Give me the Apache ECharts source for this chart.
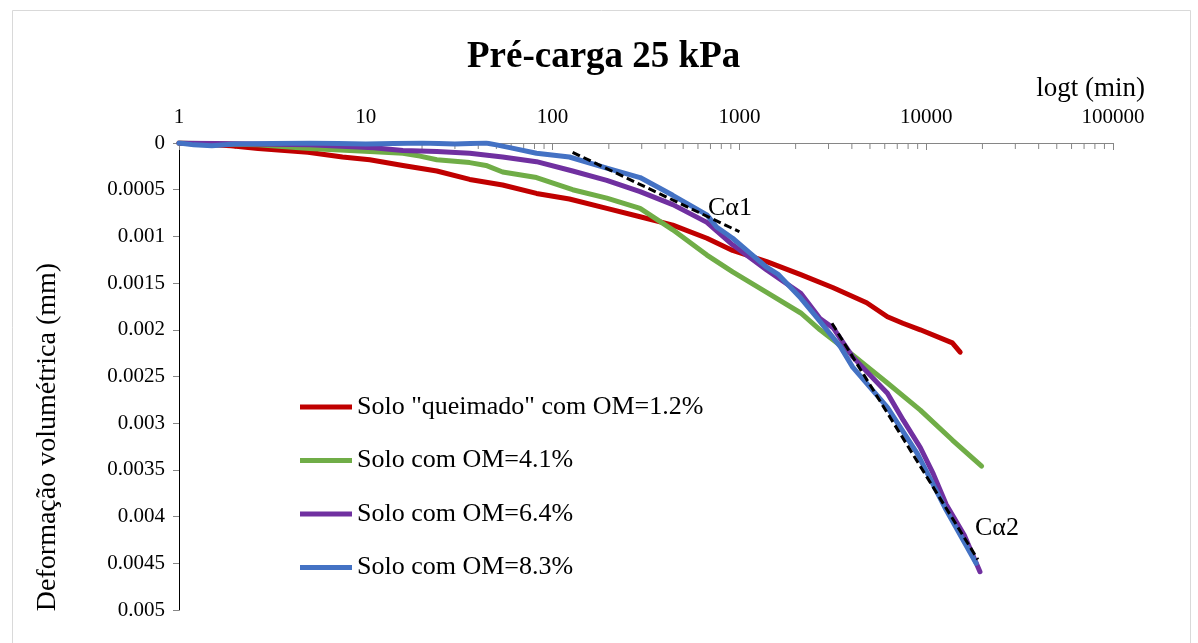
<!DOCTYPE html>
<html>
<head>
<meta charset="utf-8">
<script src="https://cdn.jsdelivr.net/npm/echarts@6/dist/echarts.min.js"></script>
<style>
html,body{margin:0;padding:0;background:#fff;}
#chart{width:1198px;height:643px;}
</style>
</head>
<body>
<div id="chart"></div>
<script>
// ---- data (time in min, volumetric deformation in mm) ----
const seriesNames = ['Solo "queimado" com OM=1.2%', 'Solo com OM=4.1%', 'Solo com OM=6.4%', 'Solo com OM=8.3%'];
const om12 = [[1,0],[1.9,0.00003],[2.65,0.00006],[4.9,0.0001],[7.5,0.00015],[10.5,0.00018],[15.8,0.00024],[24,0.0003],[36,0.00039],[54,0.00045],[82,0.00054],[123,0.0006],[195,0.0007],[294,0.00079],[440,0.00088],[670,0.00102],[920,0.00115],[1400,0.00127],[2130,0.00141],[3180,0.00155],[4800,0.00171],[6200,0.00186],[7500,0.00193],[9300,0.002],[13800,0.00214],[15200,0.00224]];
const om41 = [[1,0],[2.65,0.00002],[5,0.00006],[10.5,0.00009],[15.8,0.00011],[19.5,0.00014],[24,0.00018],[36,0.00021],[44,0.00024],[54,0.00031],[82,0.00037],[128,0.0005],[195,0.00059],[294,0.0007],[440,0.00093],[670,0.0012],[920,0.00138],[1400,0.0016],[2130,0.00182],[2700,0.002],[4040,0.00227],[6200,0.00257],[9300,0.00286],[13800,0.00318],[19800,0.00346]];
const om64 = [[1,0],[5,0.00002],[11,0.00005],[15.8,0.00008],[24,0.00009],[36,0.00011],[54,0.00015],[82,0.0002],[128,0.0003],[195,0.0004],[294,0.00052],[440,0.00066],[670,0.00085],[920,0.00109],[1400,0.00136],[2130,0.00161],[2700,0.00188],[3180,0.00198],[4040,0.00229],[6200,0.00268],[7550,0.00297],[9300,0.00326],[10900,0.00354],[12800,0.00387],[16000,0.0042],[19400,0.00459]];
const om83 = [[1,0],[1.2,0.00002],[1.5,0.00003],[2,0.00001],[5,0],[10,0.00001],[20,0],[30,0.00001],[44,0],[50,0.00002],[59,0.00005],[82,0.00011],[123,0.00015],[195,0.00027],[294,0.00037],[440,0.00056],[670,0.00077],[755,0.0009],[920,0.00102],[1140,0.00118],[1400,0.00133],[1620,0.00141],[2130,0.00166],[2600,0.00187],[3470,0.00218],[4040,0.0024],[6200,0.00283],[9000,0.00333],[12800,0.00393],[18500,0.0045]];
const ca1Line = [[128,0.0001],[1000,0.00095]];
const ca2Line = [[3130,0.00193],[18900,0.00446]];
const annotations = [{name:'Cα1', value:[679,0.0007]},{name:'Cα2', value:[18250,0.00412]}];
const xMin = 1, xMax = 100000;
const yMin = 0, yMax = 0.005, yStep = 0.0005;
const minorTickValues = [];
for (let k = 0; k < 5; k++) for (let m = 2; m <= 9; m++) minorTickValues.push(m * Math.pow(10, k));

const colors = ['#C00000', '#70AD47', '#7030A0', '#4472C4'];
const FONT = '"Liberation Serif", "Times New Roman", serif';

const chart = echarts.init(document.getElementById('chart'), null, {renderer:'canvas'});
const lineSeries = [om12, om41, om64, om83].map((d, i) => ({
  name: seriesNames[i], type: 'line', data: d, symbol: 'none', smooth: false,
  lineStyle: {width: 5, color: colors[i], cap: 'round', join: 'round'},
  itemStyle: {color: colors[i]}, z: 2 + i
}));
const option = {
  animation: false,
  backgroundColor: '#fff',
  title: {
    text: 'Pré-carga 25 kPa', left: 462, top: 34,
    textStyle: {fontFamily: FONT, fontSize: 37, fontWeight: 'bold', color: '#000'}
  },
  legend: {
    data: seriesNames, orient: 'vertical', left: 300, top: 394, padding: 0,
    itemWidth: 52, itemHeight: 14, itemGap: 27.5,
    textStyle: {fontFamily: FONT, fontSize: 26, color: '#000', lineHeight: 26},
    icon: 'path://M0,0 L52,0 L52,5 L0,5 Z'
  },
  grid: {left: 179, right: 85, top: 143, bottom: 33, containLabel: false},
  xAxis: {
    type: 'log', logBase: 10, min: xMin, max: xMax, position: 'top',
    axisLine: {show: true, lineStyle: {color: '#868686', width: 1}},
    axisTick: {show: true, inside: true, length: 7, lineStyle: {color: '#868686'}},
    axisLabel: {margin: 15, fontFamily: FONT, fontSize: 21, color: '#000', formatter: v => String(Math.round(v))},
    splitLine: {show: false}
  },
  yAxis: {
    type: 'value', inverse: true, min: yMin, max: yMax, interval: yStep,
    axisLine: {show: true, lineStyle: {color: '#000', width: 1}},
    axisTick: {show: true, inside: false, length: 6, lineStyle: {color: '#868686'}},
    axisLabel: {margin: 14, fontFamily: FONT, fontSize: 21, color: '#000', formatter: v => String(parseFloat(v.toFixed(4)))},
    splitLine: {show: false}
  },
  graphic: [
    {type: 'rect', left: 10, top: 8, shape: {width: 1178, height: 660}, style: {fill: 'none', stroke: '#d9d9d9', lineWidth: 1}, silent: true, z: -10},
    {type: 'text', right: 53, top: 75, style: {text: 'logt (min)', font: '27px ' + FONT, fill: '#000'}},
    {type: 'text', x: 48, y: 437, rotation: Math.PI / 2, style: {text: 'Deformação volumétrica (mm)', font: '28px ' + FONT, fill: '#000', align: 'center', verticalAlign: 'middle'}}
  ],
  series: [
    {
      name: 'minorTicks', type: 'custom', silent: true, z: 1,
      data: minorTickValues.map(v => [v, yMin]),
      renderItem: (params, api) => {
        const p = api.coord([api.value(0), yMin]);
        return {type: 'line', shape: {x1: p[0], y1: p[1], x2: p[0], y2: p[1] + 6}, style: {stroke: '#868686', lineWidth: 1}};
      }
    },
    ...lineSeries,
    {name: 'Ca1', type: 'line', data: ca1Line, symbol: 'none', lineStyle: {color: '#000', width: 3, type: [8, 4]}, z: 10},
    {name: 'Ca2', type: 'line', data: ca2Line, symbol: 'none', lineStyle: {color: '#000', width: 3, type: [8, 4]}, z: 10},
    {
      name: 'labels', type: 'scatter', data: annotations, symbolSize: 0, z: 11, silent: true,
      itemStyle: {opacity: 1},
      label: {show: true, position: 'right', distance: 0, formatter: p => p.name, fontFamily: FONT, fontSize: 26, color: '#000', opacity: 1, textBorderWidth: 0}
    }
  ]
};
chart.setOption(option);
</script>
</body>
</html>
